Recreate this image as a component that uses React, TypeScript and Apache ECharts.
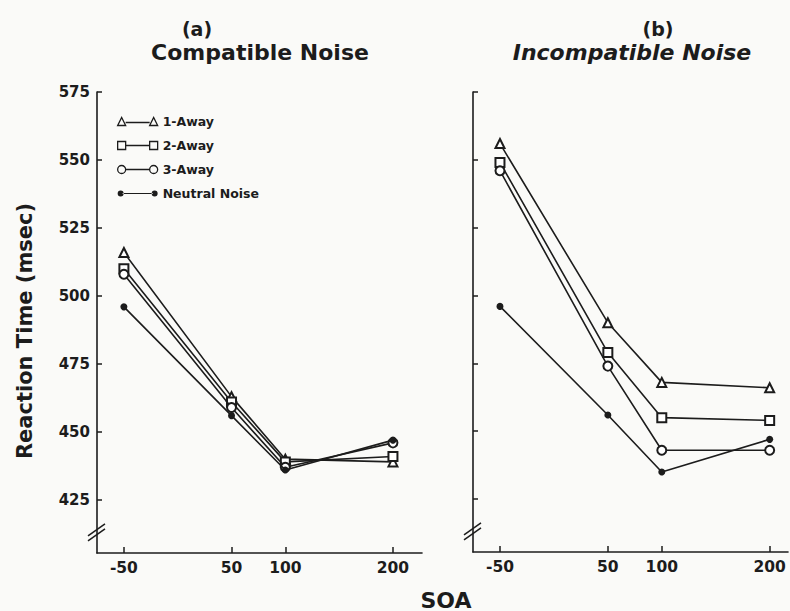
import React, { useEffect, useRef } from "react";
import * as echarts from "echarts";

const soa = [-50, 50, 100, 200];
const yTicks = [425, 450, 475, 500, 525, 550, 575];
const seriesNames = ["1-Away", "2-Away", "3-Away", "Neutral Noise"];
const symbols = ["emptyTriangle", "emptyRect", "emptyCircle", "circle"];

// (a) Compatible Noise
const compatible1Away = [516, 463, 440, 439];
const compatible2Away = [510, 461, 439, 441];
const compatible3Away = [508, 459, 437, 446];
const compatibleNeutral = [496, 456, 436, 447];

// (b) Incompatible Noise
const incompatible1Away = [556, 490, 468, 466];
const incompatible2Away = [549, 479, 455, 454];
const incompatible3Away = [546, 474, 443, 443];
const incompatibleNeutral = [496, 456, 435, 447];

const FONT = "'DejaVu Sans', Verdana, sans-serif";
const INK = "#1c1c1c";

const legendIcons = [
  "path://M0 9 L4 1 L8 9 Z M8 6 L32 6 M32 9 L36 1 L40 9 Z",
  "path://M0 1 H8 V9 H0 Z M8 5 H32 M32 1 H40 V9 H32 Z",
  "path://M0 5 A4 4 0 1 0 8 5 A4 4 0 1 0 0 5 Z M8 5 H32 M32 5 A4 4 0 1 0 40 5 A4 4 0 1 0 32 5 Z",
  "path://M0 5 A3 3 0 1 0 6 5 A3 3 0 1 0 0 5 Z M5 4.4 H35 V5.6 H5 Z M34 5 A3 3 0 1 0 40 5 A3 3 0 1 0 34 5 Z",
];

export default function App() {
  const ref = useRef<HTMLDivElement>(null);
  useEffect(() => {
    if (!ref.current) return;
    document.body.style.margin = "0";
    const chart = echarts.init(ref.current, undefined, { renderer: "svg" });

    const leftData = [compatible1Away, compatible2Away, compatible3Away, compatibleNeutral];
    const rightData = [incompatible1Away, incompatible2Away, incompatible3Away, incompatibleNeutral];

    const mkSeries = (data: number[][], idx: number) =>
      data.map((vals, i) => ({
        type: "line",
        name: seriesNames[i],
        xAxisIndex: idx,
        yAxisIndex: idx,
        data: vals.map((v, j) => [soa[j], v]),
        symbol: symbols[i],
        symbolSize: i === 3 ? 7 : 9,
        showAllSymbol: true,
        lineStyle: { color: INK, width: 1.6 },
        itemStyle: { color: INK, borderWidth: 1.5 },
        emphasis: { disabled: true },
        z: 3 + i,
      }));

    const xAxisCommon = {
      type: "value",
      axisLine: { onZero: false, lineStyle: { color: INK, width: 1.6 } },
      axisTick: { inside: true, length: 6, customValues: soa, lineStyle: { color: INK, width: 1.5 } },
      axisLabel: { customValues: soa, color: INK, fontFamily: FONT, fontWeight: "bold", fontSize: 15.5, margin: 7 },
      splitLine: { show: false },
    };
    const yAxisCommon = {
      type: "value",
      min: 405.5,
      max: 575,
      axisLine: { show: true, onZero: false, lineStyle: { color: INK, width: 1.6 } },
      axisTick: { show: true, inside: true, length: 5, customValues: yTicks, lineStyle: { color: INK, width: 1.5 } },
      splitLine: { show: false },
    };

    const txt = (text: string, x: number, y: number, size: number, extra: any = {}) => ({
      type: "text",
      x,
      y,
      ...extra,
      style: {
        text,
        fontFamily: FONT,
        fontWeight: "bold",
        fontSize: size,
        fill: INK,
        textAlign: "center",
        textVerticalAlign: "middle",
        ...(extra.style || {}),
      },
    });

    chart.setOption({
      animation: false,
      backgroundColor: "#fafaf8",
      legend: {
        left: 112,
        top: 110,
        orient: "vertical",
        itemWidth: 40,
        itemHeight: 10,
        itemGap: 11,
        selectedMode: false,
        data: seriesNames.map((name, i) => ({
          name,
          icon: legendIcons[i],
          itemStyle:
            i === 3
              ? { color: INK, borderColor: INK, borderWidth: 0 }
              : { color: "rgba(0,0,0,0)", borderColor: INK, borderWidth: 1.3 },
        })),
        textStyle: { fontFamily: FONT, fontWeight: "bold", fontSize: 12.5, color: INK },
      },
      grid: [
        { left: 97, top: 92, width: 325, height: 461, outerBoundsMode: "none", containLabel: false },
        { left: 473, top: 92, width: 315, height: 460, outerBoundsMode: "none", containLabel: false },
      ],
      xAxis: [
        { ...xAxisCommon, gridIndex: 0, min: -75, max: 227 },
        { ...xAxisCommon, gridIndex: 1, min: -75, max: 217 },
      ],
      yAxis: [
        {
          ...yAxisCommon,
          gridIndex: 0,
          axisLabel: { customValues: yTicks, color: INK, fontFamily: FONT, fontWeight: "bold", fontSize: 15, margin: 7 },
        },
        { ...yAxisCommon, gridIndex: 1, axisLabel: { show: false } },
      ],
      series: [...mkSeries(leftData, 0), ...mkSeries(rightData, 1)],
    });

    const graphics: any[] = [];
    [0, 1].forEach((g) => {
      const p = chart.convertToPixel({ gridIndex: g } as any, [-75, 414]) as number[];
      if (!p) return;
      [0, 5].forEach((off) => {
        graphics.push({
          type: "line",
          shape: { x1: p[0] - 9, y1: p[1] + 6 + off, x2: p[0] + 8, y2: p[1] - 6 + off },
          style: { stroke: INK, lineWidth: 1.5 },
          z: 10,
        });
      });
    });
    graphics.push(txt("(a)", 197, 29, 19));
    graphics.push(txt("Compatible Noise", 260, 52, 22));
    graphics.push(txt("(b)", 658, 29, 19));
    graphics.push(txt("Incompatible Noise", 632, 52, 22, { style: { fontStyle: "italic" } }));
    graphics.push(txt("SOA", 446, 600, 22));
    graphics.push(txt("Reaction Time (msec)", 25, 331, 21, { rotation: Math.PI / 2 }));
    chart.setOption({ graphic: graphics });

    return () => chart.dispose();
  }, []);
  return <div ref={ref} style={{ width: 790, height: 611 }} />;
}
